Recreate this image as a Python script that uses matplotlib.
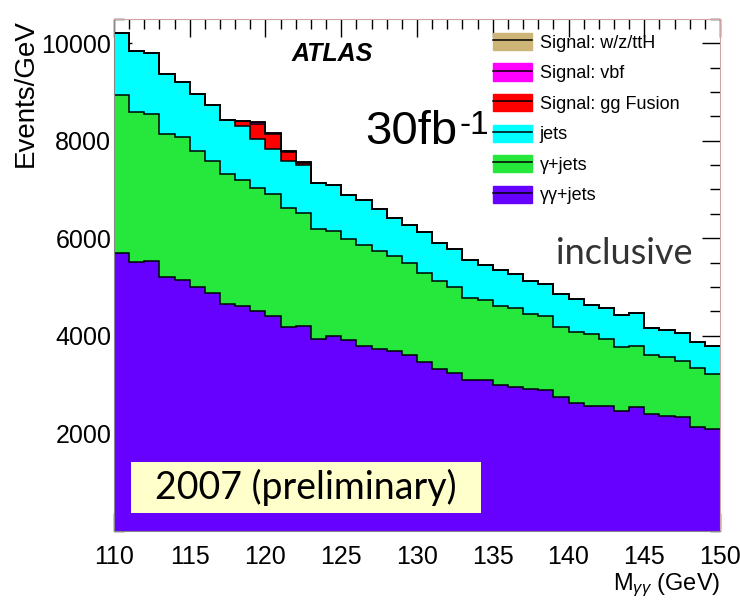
import matplotlib
matplotlib.use('Agg')
import matplotlib.pyplot as plt
import numpy as np
from matplotlib.patches import Patch, Rectangle
from matplotlib.lines import Line2D
from matplotlib.legend_handler import HandlerTuple
from matplotlib.ticker import MultipleLocator

plt.rcParams['font.family'] = ['Liberation Sans', 'DejaVu Sans']
plt.rcParams['mathtext.fontset'] = 'custom'
plt.rcParams['mathtext.rm'] = 'Liberation Sans'
plt.rcParams['mathtext.it'] = 'Liberation Sans:italic'

# 1 GeV bins from 110 to 150 GeV
mass_edges = np.arange(110, 151, 1)

# events/GeV per component (bottom -> top of the stack)
gg_jets = [5700, 5510, 5530, 5200, 5150, 5010, 4870, 4660, 4620, 4510,
           4400, 4190, 4200, 3940, 4000, 3910, 3790, 3730, 3680, 3610,
           3470, 3320, 3240, 3100, 3090, 2990, 2950, 2900, 2890, 2750,
           2630, 2570, 2560, 2450, 2550, 2400, 2350, 2330, 2140, 2090]
g_jets = [3230, 3070, 3010, 2930, 2920, 2780, 2720, 2650, 2580, 2510,
          2500, 2420, 2320, 2240, 2140, 2070, 2080, 2000, 1950, 1890,
          1810, 1800, 1770, 1680, 1640, 1630, 1620, 1540, 1510, 1440,
          1440, 1470, 1380, 1320, 1240, 1210, 1210, 1160, 1200, 1130]
jets = [1280, 1260, 1260, 1230, 1140, 1160, 1140, 1110, 1100, 1010,
        920, 980, 980, 950, 950, 900, 920, 870, 780, 780,
        850, 790, 760, 770, 730, 730, 700, 680, 660, 660,
        680, 600, 630, 650, 680, 560, 550, 560, 530, 570]
sig_gg = [0, 0, 0, 0, 0, 0, 0, 0, 100, 320,
          310, 180, 50, 0, 0, 0, 0, 0, 0, 0,
          0, 0, 0, 0, 0, 0, 0, 0, 0, 0,
          0, 0, 0, 0, 0, 0, 0, 0, 0, 0]
sig_vbf = [0, 0, 0, 0, 0, 0, 0, 0, 5, 30,
           25, 10, 5, 0, 0, 0, 0, 0, 0, 0,
           0, 0, 0, 0, 0, 0, 0, 0, 0, 0,
           0, 0, 0, 0, 0, 0, 0, 0, 0, 0]
sig_wz = [0, 0, 0, 0, 0, 0, 0, 0, 0, 8,
          8, 4, 0, 0, 0, 0, 0, 0, 0, 0,
          0, 0, 0, 0, 0, 0, 0, 0, 0, 0,
          0, 0, 0, 0, 0, 0, 0, 0, 0, 0]

labels = ['\u03b3\u03b3+jets', '\u03b3+jets', 'jets',
          'Signal: gg Fusion', 'Signal: vbf', 'Signal: w/z/ttH']
colors = ['#6600ff', '#26e83c', '#00ffff', '#ff0000', '#ff00ff', '#cdb477']

stack = np.cumsum(np.vstack([gg_jets, g_jets, jets, sig_gg, sig_vbf, sig_wz]), axis=0)

fig = plt.figure(figsize=(7.4, 6.04), dpi=100)
ax = fig.add_axes([0.154, 0.121, 0.819, 0.848])

# draw cumulative histograms from the top of the stack down
for i in range(len(labels) - 1, -1, -1):
    ax.stairs(stack[i], mass_edges, fill=True, color=colors[i], baseline=0, zorder=2)
    ax.stairs(stack[i], mass_edges, color='black', lw=1.1, baseline=None, zorder=3)

ax.set_xlim(110, 150)
ax.set_ylim(0, 10500)
ax.set_xticks(np.arange(110, 151, 5))
ax.xaxis.set_minor_locator(MultipleLocator(1))
ax.set_yticks([2000, 4000, 6000, 8000, 10000])
ax.yaxis.set_minor_locator(MultipleLocator(500))
ax.tick_params(which='both', direction='in', top=True, right=True, width=1, zorder=5)
ax.tick_params(which='major', length=13)
ax.tick_params(which='minor', length=7)
ax.tick_params(axis='x', labelsize=18, pad=10)
ax.tick_params(axis='y', labelsize=18, pad=2)
for s in ['left', 'bottom']:
    ax.spines[s].set_color('#888888')
for s in ['top', 'right']:
    ax.spines[s].set_color('#d0a4a4')
for s in ax.spines.values():
    s.set_zorder(6)

ax.set_ylabel('Events/GeV', fontsize=20, loc='top', labelpad=2)
ax.set_xlabel('M$_{\\gamma\\gamma}$ (GeV)', fontsize=17, loc='right', labelpad=2)

ax.text(121.7, 9630, 'ATLAS', fontsize=18, fontweight='bold', fontstyle='italic',
        va='baseline', zorder=7)
ax.text(126.57, 7926, '30fb', fontsize=34, va='baseline', zorder=7)
ax.text(132.8, 8130, '-1', fontsize=24, va='baseline', zorder=7)
ax.text(139.2, 5480, 'inclusive', fontsize=26, family='Lato', color='#333333',
        va='baseline', zorder=7)

# yellow label box
ax.add_patch(Rectangle((0.028, 0.035), 0.578, 0.0996, transform=ax.transAxes,
                       facecolor='#ffffcc', edgecolor='none', zorder=7))
ax.text(0.317, 0.085, '2007 (preliminary)', fontsize=27, family='Lato', color='black',
        ha='center', va='center', transform=ax.transAxes, zorder=8)

handles = [(Patch(facecolor=colors[i], edgecolor=colors[i]),
            Line2D([], [], color='black', lw=1.1)) for i in range(5, -1, -1)]
leg = ax.legend(handles, [labels[i] for i in range(5, -1, -1)],
                handler_map={tuple: HandlerTuple(ndivide=1, pad=0)},
                loc='upper left', bbox_to_anchor=(0.598, 1.004), frameon=False,
                fontsize=13, handlelength=2.2, handleheight=1.1,
                labelspacing=0.65, handletextpad=0.4)
leg.set_zorder(9)

fig.savefig('out.png', dpi=100)
